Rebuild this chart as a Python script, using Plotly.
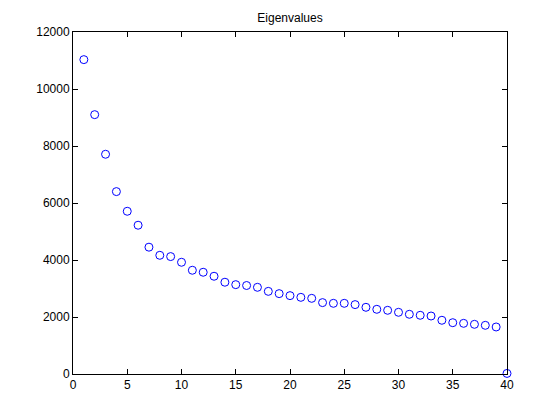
import plotly.graph_objects as go

index = list(range(1, 41))
eigenvalues = [11030, 9100, 7710, 6400, 5710, 5220, 4450, 4165, 4120, 3920,
               3640, 3570, 3430, 3220, 3135, 3105, 3042, 2900, 2820, 2750,
               2690, 2655, 2505, 2480, 2480, 2435, 2340, 2270, 2235, 2165,
               2095, 2060, 2035, 1885, 1800, 1778, 1743, 1708, 1650, 20]
x_ticks = [0, 5, 10, 15, 20, 25, 30, 35, 40]
y_ticks = [0, 2000, 4000, 6000, 8000, 10000, 12000]

fig = go.Figure()
fig.add_trace(go.Scatter(
    x=index, y=eigenvalues, mode="markers",
    marker=dict(symbol="circle-open", size=8, color="#0000ff", line=dict(width=1, color="#0000ff")),
    cliponaxis=False, showlegend=False,
))

font = dict(family="Liberation Sans, Arial, sans-serif", size=12, color="black")
axis_common = dict(showgrid=False, zeroline=False, showline=True, linecolor="black", linewidth=1,
                   mirror="ticks", ticks="inside", ticklen=5, tickwidth=1, tickcolor="black",
                   tickfont=font)
fig.update_layout(
    width=552, height=412,
    paper_bgcolor="white", plot_bgcolor="white",
    margin=dict(l=65, r=53, t=24, b=46),
    title=dict(text="Eigenvalues", font=font, x=0.5, xanchor="center",
               y=1 - 10 / 412, yanchor="middle", xref="paper", yref="container"),
    xaxis=dict(range=[0, 40], tickvals=x_ticks, ticktext=[str(v) for v in x_ticks], **axis_common),
    yaxis=dict(range=[0, 12000], tickvals=y_ticks, ticktext=[str(v) for v in y_ticks], **axis_common),
)
fig.write_html("out.html")
